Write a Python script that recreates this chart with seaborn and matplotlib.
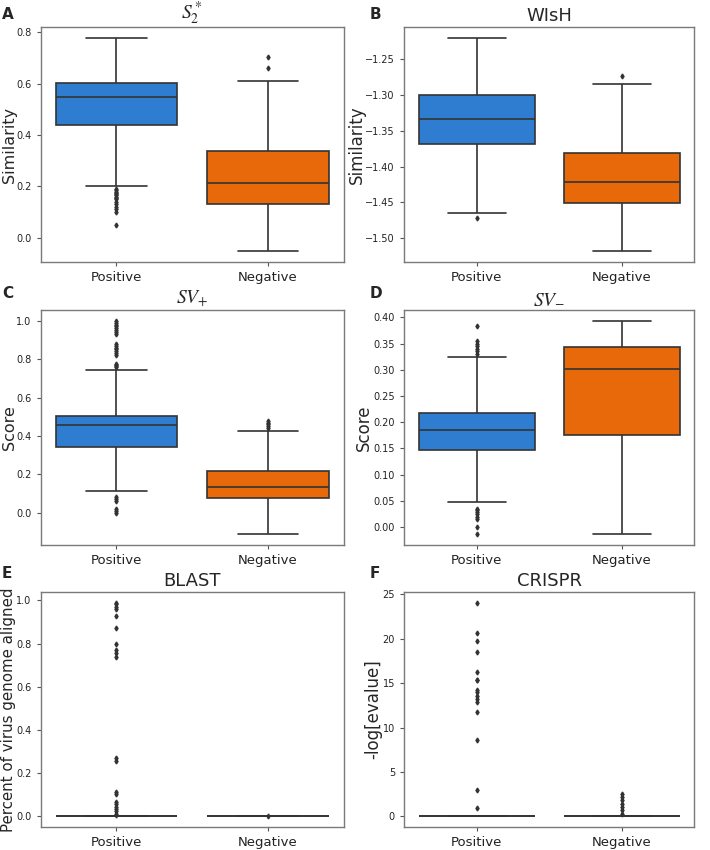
import numpy as np
import pandas as pd
import seaborn as sns
import matplotlib.pyplot as plt

# box summaries: [whisker low, q1, median, q3, whisker high]
groups = ["Positive", "Negative"]

s2_pos_box = [0.203, 0.44, 0.548, 0.605, 0.78]
s2_pos_fliers = [0.19, 0.185, 0.18, 0.175, 0.17, 0.165, 0.16, 0.155, 0.15, 0.14, 0.13, 0.12, 0.11, 0.10, 0.05]
s2_neg_box = [-0.053, 0.13, 0.215, 0.337, 0.612]
s2_neg_fliers = [0.661, 0.703]

wish_pos_box = [-1.4646, -1.3682, -1.3338, -1.3003, -1.2197]
wish_pos_fliers = [-1.4725]
wish_neg_box = [-1.5186, -1.4516, -1.4222, -1.3812, -1.284]
wish_neg_fliers = [-1.2733]

svp_pos_box = [0.114, 0.343, 0.459, 0.505, 0.745]
svp_pos_fliers = [0.76, 0.765, 0.77, 0.775, 0.82, 0.83, 0.84, 0.85, 0.86, 0.87, 0.88,
                  0.93, 0.94, 0.95, 0.96, 0.97, 0.98, 0.99, 1.0, 0.08, 0.07, 0.06, 0.02, 0.01, 0.0]
svp_neg_box = [-0.112, 0.075, 0.136, 0.217, 0.427]
svp_neg_fliers = [0.44, 0.45, 0.46, 0.47, 0.48]

svm_pos_box = [0.047, 0.146, 0.186, 0.218, 0.325]
svm_pos_fliers = [0.383, 0.33, 0.335, 0.34, 0.345, 0.35, 0.355,
                  0.035, 0.032, 0.028, 0.024, 0.02, 0.016, 0.0, -0.014]
svm_neg_box = [-0.014, 0.1752, 0.302, 0.3435, 0.3937]
svm_neg_fliers = []

blast_pos_box = [0, 0, 0, 0, 0]
blast_pos_fliers = [0.989, 0.982, 0.971, 0.962, 0.928, 0.871, 0.80, 0.772, 0.755, 0.738,
                    0.271, 0.258, 0.115, 0.105, 0.068, 0.055, 0.043, 0.033, 0.025, 0.012, 0.005]
blast_neg_box = [0, 0, 0, 0, 0]
blast_neg_fliers = [0.003]

crispr_pos_box = [0, 0, 0, 0, 0]
crispr_pos_fliers = [24.06, 20.7, 19.7, 18.5, 16.3, 15.4, 15.3, 14.2, 14.0, 13.6, 13.2, 12.9,
                     11.8, 8.6, 3.0, 0.94]
crispr_neg_box = [0, 0, 0, 0, 0]
crispr_neg_fliers = [2.55, 2.2, 1.8, 1.4, 1.05, 0.7, 0.3]


def make_sample(box, fliers, m=100):
    # rebuild a sample whose quartiles / whiskers match the summary
    lo, q1, med, q3, hi = box
    return [lo] + [q1] * m + [med] * m + [q3] * m + [hi] + list(fliers)


def make_df(pos_box, pos_fl, neg_box, neg_fl):
    pos = make_sample(pos_box, pos_fl)
    neg = make_sample(neg_box, neg_fl)
    return pd.DataFrame({"group": [groups[0]] * len(pos) + [groups[1]] * len(neg),
                         "value": pos + neg})


# letter, title, ylabel, ylabel size, ylabel x (axes coords), data
panels = [
    ("A", r"$S_2^*$", "Similarity", 11.5, -0.079,
     make_df(s2_pos_box, s2_pos_fliers, s2_neg_box, s2_neg_fliers)),
    ("B", "WIsH", "Similarity", 12, -0.13,
     make_df(wish_pos_box, wish_pos_fliers, wish_neg_box, wish_neg_fliers)),
    ("C", r"$SV_{+}$", "Score", 11.5, -0.079,
     make_df(svp_pos_box, svp_pos_fliers, svp_neg_box, svp_neg_fliers)),
    ("D", r"$SV_{-}$", "Score", 12, -0.108,
     make_df(svm_pos_box, svm_pos_fliers, svm_neg_box, svm_neg_fliers)),
    ("E", "BLAST", "Percent of virus genome aligned", 10.8, -0.082,
     make_df(blast_pos_box, blast_pos_fliers, blast_neg_box, blast_neg_fliers)),
    ("F", "CRISPR", "-log[evalue]", 12, -0.076,
     make_df(crispr_pos_box, crispr_pos_fliers, crispr_neg_box, crispr_neg_fliers)),
]

sns.set_style("ticks")
plt.rcParams["font.family"] = ["DejaVu Sans"]
plt.rcParams["axes.edgecolor"] = "#7a7a7a"
plt.rcParams["xtick.color"] = "#555555"
plt.rcParams["ytick.color"] = "#555555"
plt.rcParams["xtick.labelcolor"] = "#222222"
plt.rcParams["ytick.labelcolor"] = "#222222"

palette = {"Positive": "#2e7dd1", "Negative": "#e8690a"}

fig = plt.figure(figsize=(7.1, 8.5), dpi=100)

# axes rectangles (left, bottom, width, height)
lefts = [0.0573, 0.569]
widths = [0.427, 0.409]
bottoms = [0.6918, 0.3588, 0.027]
height = 0.2765
# panel letter positions in pixels (x, top y)
letter_x = [2, 370]
letter_y = [7, 286, 566]

for i, (letter, title, ylabel, yfs, ylx, df) in enumerate(panels):
    r, c = divmod(i, 2)
    ax = fig.add_axes([lefts[c], bottoms[r], widths[c], height])
    sns.boxplot(data=df, x="group", y="value", hue="group", palette=palette,
                order=groups, width=0.8, saturation=1, linecolor="#333333", linewidth=1.2,
                flierprops=dict(marker="d", markersize=2.5, markerfacecolor="#333333",
                                markeredgecolor="#333333"),
                legend=False, ax=ax)
    ax.set_xlabel("")
    ax.set_ylabel(ylabel, fontsize=yfs)
    ax.yaxis.set_label_coords(ylx, 0.5)
    ax.tick_params(axis="x", labelsize=9.5, length=3)
    ax.tick_params(axis="y", labelsize=7, length=3)
    if title.startswith("$"):
        ax.set_title(title, fontsize=14, math_fontfamily="stix", pad=4)
    else:
        ax.set_title(title, fontsize=13, pad=4)
    for sp in ax.spines.values():
        sp.set_visible(True)
        sp.set_linewidth(1.0)
    fig.text(letter_x[c] / 710, 1 - letter_y[r] / 850, letter,
             fontsize=11, fontweight="bold", va="top", ha="left")

fig.savefig("out.png", dpi=100)
